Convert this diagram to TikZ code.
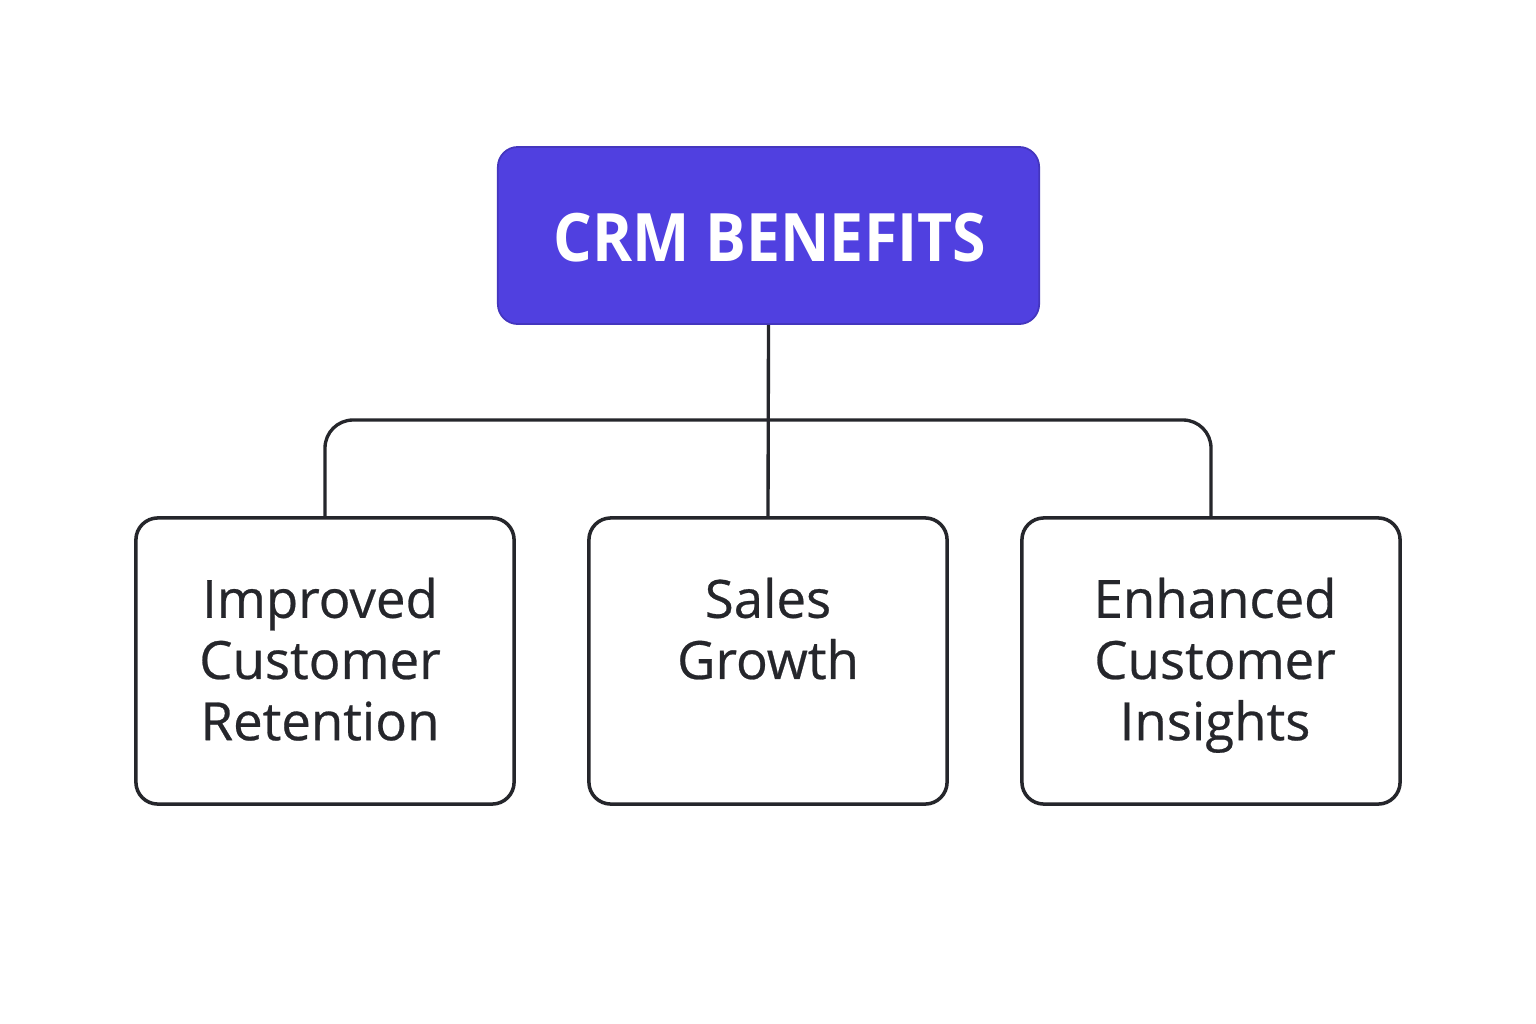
\documentclass[tikz,border=0pt]{standalone}
\usepackage{fontspec}
\setmainfont{Open Sans}
\newfontfamily\topfont[FakeStretch=0.91]{Open Sans}
\newfontfamily\bodyfont[FakeBold=0.5]{Open Sans}
\definecolor{topfill}{HTML}{5040E0}
\definecolor{ink}{HTML}{25262B}
\begin{document}
\begin{tikzpicture}[x=0.01cm,y=-0.01cm,
  topbox/.style={fill=topfill,draw=topfill!85!black,line width=0.5pt,rounded corners=0.2cm,inner sep=0pt},
  benefit/.style={draw=ink,line width=1pt,fill=white,rounded corners=0.22cm,inner sep=0pt},
  btext/.style={text=ink,align=center,inner sep=0pt,anchor=north,font=\bodyfont\fontsize{15}{17.4}\selectfont},
  conn/.style={draw=ink,line width=0.95pt}]
\useasboundingbox[fill=white] (0,0) rectangle (1536,1024);
% top
\node[topbox,minimum width=5.41cm,minimum height=1.77cm] (top) at (768.5,235.5) {};
\node[text=white,inner sep=0pt,font=\topfont\fontsize{19}{23}\selectfont\bfseries] (toptxt) at (770,238) {CRM BENEFITS};
% boxes
\node[benefit,minimum width=3.78cm,minimum height=2.86cm] (b1) at (325,661) {};
\node[benefit,minimum width=3.58cm,minimum height=2.86cm] (b2) at (768,661) {};
\node[benefit,minimum width=3.78cm,minimum height=2.86cm] (b3) at (1211,661) {};
\node[btext] (t1) at (320,577) {Improved\\Customer\\Retention};
\node[btext] (t2) at (768,577) {Sales\\Growth};
\node[btext] (t3) at (1215,577) {Enhanced\\Customer\\Insights};
% connectors
\coordinate (bus) at (768,420);
\draw[conn] (top.south) -- (b2.north);
\draw[conn,rounded corners=0.28cm] (b1.north) |- (bus) -| (b3.north);
\end{tikzpicture}
\end{document}
